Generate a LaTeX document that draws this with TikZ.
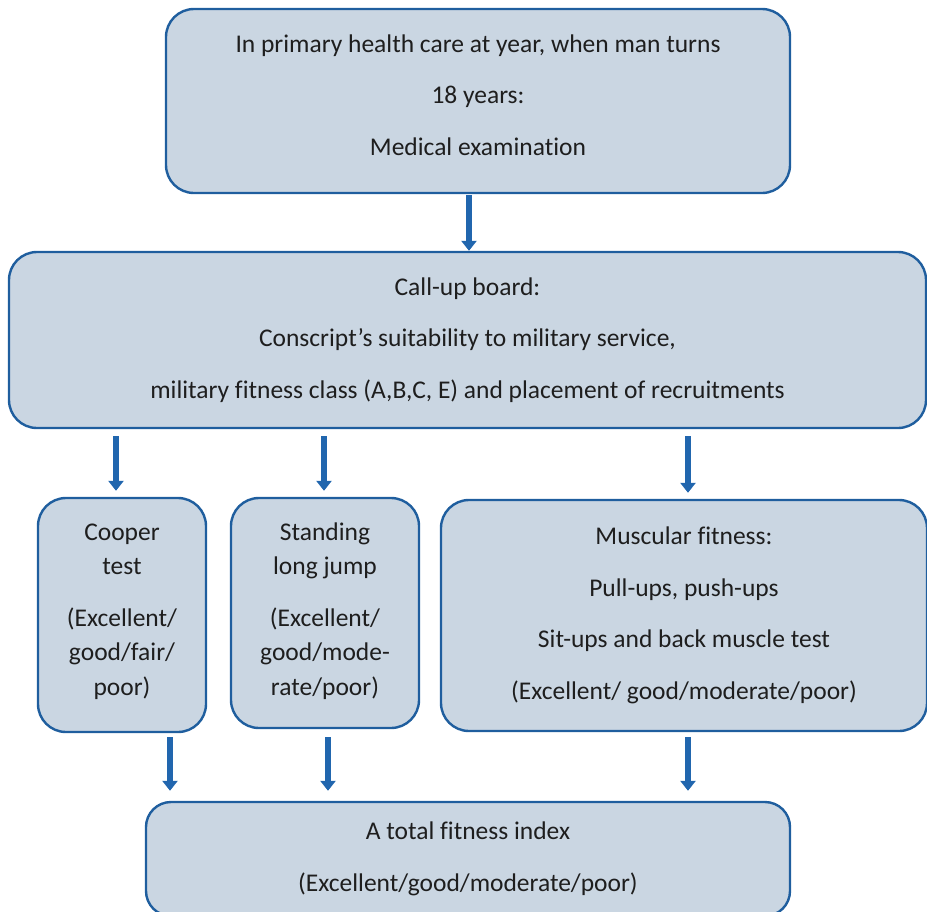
\documentclass[tikz,border=0pt]{standalone}
\usepackage{fontspec}
\setmainfont{Carlito}[Ligatures=NoCommon]
\usetikzlibrary{arrows.meta}
\definecolor{boxfill}{HTML}{CAD6E2}
\definecolor{boxline}{HTML}{1F5E9E}
\definecolor{arrblue}{HTML}{2166AE}
\definecolor{txt}{HTML}{1E1E1E}
\tikzset{
  box/.style={draw=boxline, fill=boxfill, line width=2.4pt, rounded corners=28pt,
    inner sep=0pt, align=center, text=txt, font=\fontsize{25.5}{34.5}\selectfont},
  arr/.style={draw=arrblue, line width=6pt, -{Triangle[width=15pt,length=10pt]}}
}
\begin{document}
\begin{tikzpicture}[x=1pt,y=-1pt]
\useasboundingbox (0,0) rectangle (927,911);
\node[box, minimum width=624pt, minimum height=184pt] (top) at (478,101)
  {\raisebox{4pt}[\height][\depth]{\begin{tabular}{@{}c@{}}In primary health care at year, when man turns\\[17pt]18 years:\\[17pt]Medical examination\end{tabular}}};
\node[box, minimum width=917pt, minimum height=176pt] (callup) at (467.5,340)
  {Call-up board:\\[17pt]Conscript’s suitability to military service,\\[17pt]military fitness class (A,B,C, E) and placement of recruitments};
\node[box, minimum width=168pt, minimum height=234pt] (cooper) at (122,615)
  {\raisebox{4pt}[\height][\depth]{\begin{tabular}{@{}c@{}}Cooper\\test\\[17pt](Excellent/\\good/fair/\\poor)\end{tabular}}};
\node[box, minimum width=188pt, minimum height=230pt] (jump) at (325,613)
  {\raisebox{2pt}[\height][\depth]{\begin{tabular}{@{}c@{}}Standing\\long jump\\[17pt](Excellent/\\good/mode-\\rate/poor)\end{tabular}}};
\node[box, minimum width=486pt, minimum height=231pt] (musc) at (684,615.5)
  {Muscular fitness:\\[17pt]Pull-ups, push-ups\\[17pt]Sit-ups and back muscle test\\[17pt](Excellent/ good/moderate/poor)};
\node[box, minimum width=644pt, minimum height=114pt, rounded corners=25pt] (total) at (468,859)
  {A total fitness index\\[17pt](Excellent/good/moderate/poor)};
\draw[arr, shorten <=1pt] (top.south -| 469,0) -- (callup.north -| 469,0);
\draw[arr, shorten <=7pt, shorten >=6pt] (callup.south -| 116,0) -- (cooper.north -| 116,0);
\draw[arr, shorten <=7pt, shorten >=6pt] (callup.south -| 324,0) -- (jump.north -| 324,0);
\draw[arr, shorten <=7pt, shorten >=6pt] (callup.south -| 688,0) -- (musc.north -| 688,0);
\draw[arr, shorten <=4pt, shorten >=10pt] (cooper.south -| 170,0) -- (total.north -| 170,0);
\draw[arr, shorten <=8pt, shorten >=10pt] (jump.south -| 328,0) -- (total.north -| 328,0);
\draw[arr, shorten <=5pt, shorten >=10pt] (musc.south -| 688,0) -- (total.north -| 688,0);
\end{tikzpicture}
\end{document}
